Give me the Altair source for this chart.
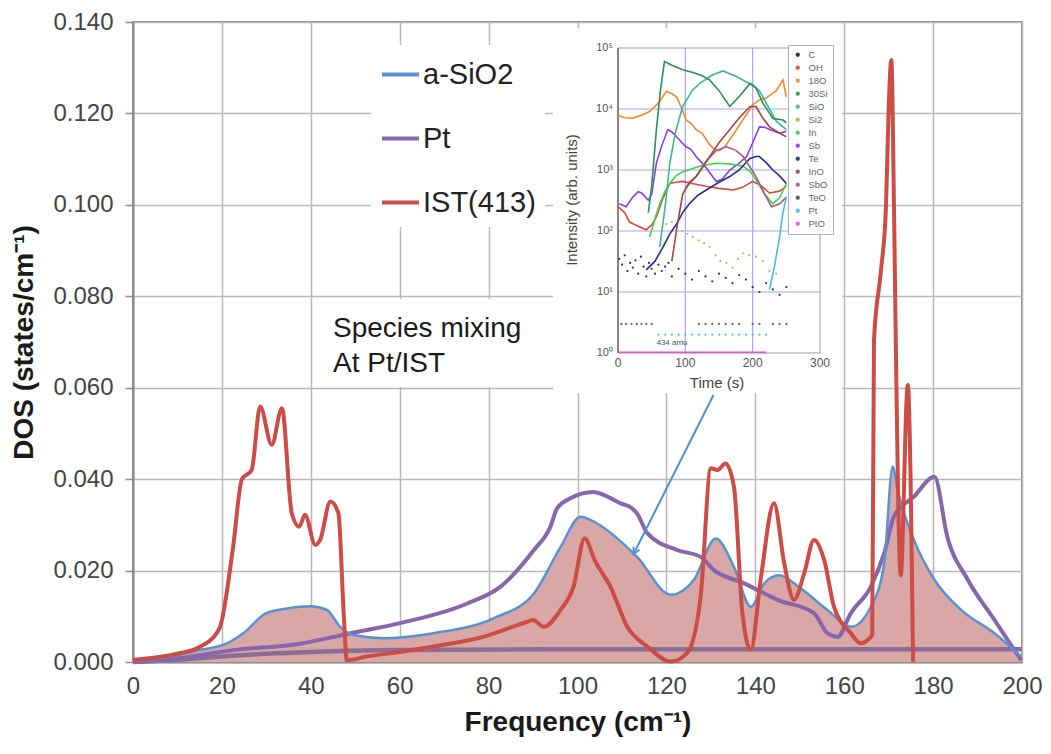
import altair as alt
import pandas as pd

# ---------------- main chart data ----------------
SERIES = ["a-SiO2", "Pt", "IST(413)"]
COLORS = ["#5792d4", "#8766ac", "#cc4d45"]

FREQ_SIO2 = [0, 5, 10, 15, 21, 24.8, 30, 34.6, 39.9, 43.6, 46.6, 49.6, 56.4, 67.6, 81.2, 90.2, 96.2,
             100.7, 104.4, 113.4, 121, 126.2, 131.1, 135.2, 139, 142, 145.3, 150.2, 156.2, 161.5,
             166, 169, 170.9, 172, 175.7, 180.3, 186.3, 193.8, 199.8]
DOS_SIO2 = [0.0004, 0.0008, 0.0015, 0.0026, 0.004, 0.0063, 0.0107, 0.0117, 0.0122, 0.0114, 0.0077,
            0.0059, 0.0052, 0.0063, 0.0096, 0.015, 0.0252, 0.0318, 0.0303, 0.023, 0.0147, 0.018,
            0.027, 0.0208, 0.0121, 0.0172, 0.019, 0.0161, 0.0114, 0.0077, 0.0121, 0.0216, 0.0427,
            0.0376, 0.0267, 0.018, 0.0114, 0.0063, 0.0012]

FREQ_PT = [0, 10, 22.5, 37.6, 48.9, 60.1, 75.2, 82.7, 90.2, 93.9, 95.4, 98.4, 103.5, 109.7, 112.3,
           113.4, 115.7, 122.4, 127.7, 130.7, 137.5, 145, 153.2, 156.2, 158.5, 161.5, 166, 169,
           171.2, 175.7, 180.3, 183.2, 187.8, 193.8, 199.8]
DOS_PT = [0.0, 0.0008, 0.0026, 0.004, 0.0063, 0.0085, 0.0128, 0.0165, 0.0245, 0.0296, 0.0336,
          0.0358, 0.0372, 0.0347, 0.0336, 0.0325, 0.0282, 0.0245, 0.023, 0.0201, 0.0172, 0.0136,
          0.0107, 0.0063, 0.0055, 0.0107, 0.0165, 0.0238, 0.0318, 0.0362, 0.0405, 0.0274, 0.018,
          0.0092, 0.0004]

FREQ_IST = [0, 5, 10, 15, 18.8, 19.6, 22.5, 24.5, 26.7, 28.6, 31.2, 33.5, 35.7, 37.4, 38.7, 41,
            42.1, 44.4, 46.2, 47.4, 48.1, 52.6, 60, 67.6, 78.8, 88.7, 90, 92.4, 96.2, 99.1, 101.6,
            104, 107.4, 111.2, 115.7, 121, 124.7, 127.7, 130, 131.5, 133.3, 135.2, 137.1, 139,
            141.2, 144.2, 146.5, 148.7, 151, 153.2, 155.5, 157.7, 161.5, 163.7, 165.5, 166.3,
            166.7, 168.2, 169.4, 170, 170.6, 171.2, 171.6, 172.7, 174.3, 175.5]
DOS_IST = [0.0005, 0.001, 0.0018, 0.0033, 0.0063, 0.0077, 0.025, 0.040, 0.042, 0.0559, 0.0475,
           0.0555, 0.0326, 0.0296, 0.0322, 0.0256, 0.0267, 0.0351, 0.0326, 0.0107, 0.0004, 0.0012,
           0.0022, 0.0034, 0.0055, 0.0088, 0.0092, 0.0077, 0.0114, 0.0165, 0.027, 0.022, 0.0165,
           0.0077, 0.0034, 0.0001, 0.002, 0.0143, 0.0424, 0.042, 0.0434, 0.0383, 0.0107, 0.0026,
           0.018, 0.0347, 0.0216, 0.0136, 0.0194, 0.0267, 0.0223, 0.0121, 0.0063, 0.0041, 0.005,
           0.006, 0.0704, 0.085, 0.0996, 0.121, 0.1317, 0.0995, 0.0704, 0.019, 0.0606, 0.0]

FREQ_BASE = [0, 10, 20, 30, 40, 60, 100, 150, 200]
DOS_BASE = [0.0, 0.0005, 0.0012, 0.0018, 0.0022, 0.0026, 0.0028, 0.0028, 0.0028]

Y_TICKS = [0, 0.02, 0.04, 0.06, 0.08, 0.10, 0.12, 0.14]
X_TICKS = [0, 20, 40, 60, 80, 100, 120, 140, 160, 180, 200]

# ---------------- inset (SIMS depth profile) data ----------------
INSET_SPECIES = ["C", "OH", "18O", "30Si", "SiO", "Si2", "In", "Sb", "Te", "InO", "SbO", "TeO", "Pt", "PtO"]
INSET_COLORS = ["#222222", "#e0453a", "#f28a30", "#2f8f55", "#3fb59a", "#b4b060", "#3fd24a",
                "#8a3fe6", "#2a2a90", "#a0483c", "#a65a88", "#555555", "#49bde6", "#e050d8"]

T_30SI = [45, 50, 57, 63, 69, 80, 96, 110, 125, 136, 150, 166, 180, 196, 205, 215, 230, 245, 250]
V_30SI = [200, 540, 4600, 20000, 60000, 52000, 44000, 40000, 35000, 30000, 20000, 11000, 16000,
          26000, 22000, 12600, 7000, 6600, 6000]
T_SIO = [62, 70, 77, 85, 96, 110, 121, 140, 156, 176, 190, 200, 210, 220, 235, 250]
V_SIO = [55, 250, 1300, 4000, 11000, 20000, 26000, 36000, 42000, 34000, 28000, 25000, 20000,
         12600, 6300, 4600]
T_18O = [0, 10, 22, 35, 47, 60, 72, 80, 87, 95, 101, 110, 116, 125, 136, 145, 151, 160, 176, 190,
         200, 210, 220, 235, 245, 250]
V_18O = [7900, 7200, 7100, 7900, 9100, 12600, 19500, 17800, 15800, 10000, 6600, 5600, 4600, 4000,
         2600, 2100, 2100, 2500, 4600, 7900, 11700, 14100, 15100, 20000, 30000, 15800]
T_SB = [2, 12, 22, 30, 35, 45, 50, 57, 65, 74, 80, 87, 95, 101, 108, 116, 130, 146, 155, 166, 180,
        191, 200, 210, 218, 225, 240, 250]
V_SB = [280, 250, 360, 440, 420, 320, 400, 1300, 2500, 4600, 4200, 3500, 2800, 2400, 2200, 1660,
        1120, 650, 710, 1000, 1300, 1660, 2800, 5100, 5000, 4600, 4000, 4300]
T_IN = [47, 55, 62, 70, 77, 86, 96, 110, 121, 135, 146, 165, 186, 196, 205, 218, 230, 240, 250]
V_IN = [80, 160, 280, 450, 600, 800, 930, 1050, 1150, 1230, 1290, 1260, 1150, 950, 690, 400, 280,
        350, 600]
T_OH = [0, 10, 17, 30, 42, 50, 57, 67, 77, 86, 96, 110, 131, 150, 171, 185, 200, 212, 225, 240, 250]
V_OH = [250, 200, 140, 120, 105, 125, 170, 350, 600, 630, 650, 600, 540, 500, 470, 520, 650, 560,
        420, 450, 540]
T_INO = [80, 87, 96, 106, 116, 126, 136, 150, 166, 180, 196, 205, 215, 225, 240, 250]
V_INO = [32, 105, 400, 630, 780, 1120, 1660, 2800, 4600, 7100, 11000, 11000, 7100, 5100, 4000, 3500]
T_SBO = [100, 116, 131, 146, 161, 175, 186, 196, 205, 218, 228, 240, 250]
V_SBO = [500, 780, 1400, 2100, 2400, 2100, 1660, 1120, 780, 400, 250, 280, 360]
T_TE = [42, 55, 67, 77, 87, 96, 106, 118, 131, 150, 166, 180, 196, 205, 210, 220, 230, 240, 250]
V_TE = [23, 32, 55, 90, 130, 200, 280, 380, 470, 630, 780, 1000, 1550, 1660, 1660, 1320, 1000, 800, 600]
T_PT = [225, 232, 240, 245, 250]
V_PT = [11, 25, 80, 200, 360]
T_PTO = [0, 50, 100, 150, 200, 220]
V_PTO = [1.03, 1.03, 1.03, 1.03, 1.03, 1.03]

T_C = [2, 6, 10, 14, 18, 22, 26, 30, 34, 38, 42, 46, 50, 55, 60, 65, 70, 75, 80, 90, 100, 110, 120,
       130, 140, 150, 160, 170, 180, 190, 200, 210, 220, 230, 240, 250]
V_C = [35, 28, 40, 22, 30, 25, 33, 20, 38, 26, 18, 30, 24, 20, 28, 22, 26, 30, 18, 24, 20, 16, 22,
       18, 15, 20, 17, 14, 19, 16, 12, 10, 14, 11, 9, 12]
T_SI2 = [72, 80, 87, 95, 103, 111, 120, 128, 136, 145, 152, 161, 170, 178, 186, 195, 205, 215, 225, 235]
V_SI2 = [130, 140, 118, 100, 90, 80, 70, 63, 55, 40, 32, 30, 25, 35, 43, 40, 38, 32, 22, 20]
T_TEO = [5, 12, 20, 28, 35, 42, 50, 120, 130, 140, 150, 160, 170, 180, 200, 210, 230, 240, 250]
V_TEO = [3] * len(T_TEO)
T_PTROW = [60, 70, 80, 90, 100, 110, 120, 130, 140, 150, 160, 170, 180, 190, 200, 210, 220]
V_PTROW = [2] * len(T_PTROW)

INSET_Y_TICKS = [1, 10, 100, 1000, 10000, 100000]
INSET_Y_LABELS = ["10⁰", "10¹", "10²", "10³", "10⁴", "10⁵"]
INSET_X_TICKS = [0, 100, 200, 300]

FONT = "Liberation Sans"

# ---------------- build tables ----------------
def ftab(x, y, name):
    return pd.DataFrame({"freq": x, "dos": y, "series": name})

df_sio2 = ftab(FREQ_SIO2, DOS_SIO2, "a-SiO2")
df_pt = ftab(FREQ_PT, DOS_PT, "Pt")
df_ist = ftab(FREQ_IST, DOS_IST, "IST(413)")
df_base = ftab(FREQ_BASE, DOS_BASE, "base")

def itab(t, v, name):
    return pd.DataFrame({"t": t, "v": v, "species": name})

df_ilines = pd.concat([
    itab(T_PTO, V_PTO, "PtO"), itab(T_OH, V_OH, "OH"), itab(T_18O, V_18O, "18O"),
    itab(T_SB, V_SB, "Sb"), itab(T_IN, V_IN, "In"), itab(T_TE, V_TE, "Te"),
    itab(T_SBO, V_SBO, "SbO"), itab(T_INO, V_INO, "InO"), itab(T_SIO, V_SIO, "SiO"),
    itab(T_30SI, V_30SI, "30Si"), itab(T_PT, V_PT, "Pt"),
], ignore_index=True)
df_ipts = pd.concat([
    itab(T_C, V_C, "C"), itab(T_SI2, V_SI2, "Si2"), itab(T_TEO, V_TEO, "TeO"),
    itab(T_PTROW, V_PTROW, "Pt"),
], ignore_index=True)

# ---------------- main encodings ----------------
xm = alt.X("freq:Q", scale=alt.Scale(domain=[0, 200], nice=False),
           axis=alt.Axis(values=X_TICKS, title="Frequency (cm⁻¹)", format="d", labelFlush=False))
ym = alt.Y("dos:Q", scale=alt.Scale(domain=[0, 0.14], nice=False),
           axis=alt.Axis(values=Y_TICKS, title="DOS (states/cm⁻¹)", format=".3f"))
col_scale = alt.Scale(domain=SERIES, range=COLORS)
legend_main = alt.Legend(
    title=None, orient="none", legendX=238, legendY=23, fillColor="white",
    symbolType="stroke", symbolStrokeWidth=4, symbolSize=1369, labelFontSize=29,
    labelFont=FONT, labelColor="#222222", rowPadding=28, padding=9, labelOffset=2,
)

area = alt.Chart(df_sio2).mark_area(color="#d9a7a5", interpolate="monotone").encode(x=xm, y=ym)
base = alt.Chart(df_base).mark_line(color="#8a6e98", strokeWidth=4.5, interpolate="monotone").encode(x=xm, y=ym)

def series_line(df, width):
    return alt.Chart(df).mark_line(strokeWidth=width, interpolate="monotone").encode(
        x=xm, y=ym, color=alt.Color("series:N", scale=col_scale, legend=legend_main))

line_pt = series_line(df_pt, 4)
line_sio2 = series_line(df_sio2, 2.5)
line_ist = series_line(df_ist, 4)

species_box = alt.Chart(pd.DataFrame({"k": [0]})).mark_rect(fill="white").encode(
    x=alt.value(187), x2=alt.value(430), y=alt.value(277), y2=alt.value(365))
species_text = alt.Chart(pd.DataFrame({"label": ["Species mixing\nAt Pt/IST"]})).mark_text(
    align="left", baseline="alphabetic", fontSize=28, font=FONT, color="#1a1a1a",
    lineBreak="\n", lineHeight=35).encode(x=alt.value(200), y=alt.value(315), text="label:N")

ARROW = pd.DataFrame({"freq": [130.6], "dos": [0.0584], "freq2": [112.6], "dos2": [0.0236]})
arrow_line = alt.Chart(ARROW).mark_rule(color="#4f8ed0", strokeWidth=2).encode(
    x=xm, y=ym, x2="freq2:Q", y2="dos2:Q")
arrow_head = alt.Chart(ARROW).mark_point(
    shape="M -0.7 -1.4 L 0 0 L 0.7 -1.4", filled=False, stroke="#4f8ed0", strokeWidth=2,
    size=90, angle=27, opacity=1).encode(
    x=alt.X("freq2:Q", scale=alt.Scale(domain=[0, 200], nice=False)),
    y=alt.Y("dos2:Q", scale=alt.Scale(domain=[0, 0.14], nice=False)))

main = alt.layer(area, base, line_pt, line_sio2, line_ist, species_box, species_text,
                 arrow_line, arrow_head)

# ---------------- inset encodings ----------------
xs_i = alt.Scale(domain=[0, 300], range=[485, 687], nice=False)
ys_i = alt.Scale(type="log", domain=[1, 100000], range=[331, 26], nice=False)
xi = alt.X("t:Q", scale=xs_i, axis=None)
yi = alt.Y("v:Q", scale=ys_i, axis=None)
icol = alt.Scale(domain=INSET_SPECIES, range=INSET_COLORS)
legend_inset = alt.Legend(
    title=None, orient="none", legendX=655, legendY=23, fillColor="white", strokeColor="#b0b0b0",
    symbolType="circle", symbolSize=8, labelFontSize=9.5, labelFont=FONT, labelColor="#666666",
    rowPadding=2, padding=5, labelOffset=6,
)

inset_bg = alt.Chart(pd.DataFrame({"k": [0]})).mark_rect(fill="white").encode(
    x=alt.value(420), x2=alt.value(709), y=alt.value(6), y2=alt.value(371))

vgrid = alt.Chart(pd.DataFrame({"t": [100, 200], "v": [1, 1], "v2": [100000, 100000]})).mark_rule(
    color="#a5a5f0", strokeWidth=1.2).encode(x=xi, y=yi, y2="v2:Q")
hgrid = alt.Chart(pd.DataFrame({"v": [10, 100, 1000, 10000], "t": [0] * 4, "t2": [300] * 4})).mark_rule(
    color="#a5a5f0", strokeWidth=1.2).encode(x=xi, x2="t2:Q", y=yi)
iframe = alt.Chart(pd.DataFrame({"t": [0], "t2": [300], "v": [1], "v2": [100000]})).mark_rect(
    fillOpacity=0, stroke="#9a9a9a", strokeWidth=1).encode(x=xi, x2="t2:Q", y=yi, y2="v2:Q")
iaxis = alt.Chart(pd.DataFrame({"t": [0], "v": [1], "v2": [100000]})).mark_rule(
    color="#555555", strokeWidth=1.2).encode(x=xi, y=yi, y2="v2:Q")

ilines = alt.Chart(df_ilines).mark_line(strokeWidth=1.6).encode(
    x=xi, y=yi, detail="species:N",
    color=alt.Color("species:N", scale=icol, legend=legend_inset))
ipts = alt.Chart(df_ipts).mark_circle(size=5, opacity=0.9).encode(
    x=xi, y=yi, color=alt.Color("species:N", scale=icol, legend=legend_inset))

iylab = alt.Chart(pd.DataFrame({"v": INSET_Y_TICKS, "t": [0] * 6, "label": INSET_Y_LABELS})).mark_text(
    align="right", baseline="middle", dx=-5, fontSize=11, font=FONT, color="#555555").encode(
    x=xi, y=yi, text="label:N")
ixlab = alt.Chart(pd.DataFrame({"t": INSET_X_TICKS, "v": [1] * 4,
                                "label": [str(v) for v in INSET_X_TICKS]})).mark_text(
    align="center", baseline="top", dy=5, fontSize=12, font=FONT, color="#555555").encode(
    x=xi, y=yi, text="label:N")
ixtitle = alt.Chart(pd.DataFrame({"label": ["Time (s)"]})).mark_text(
    fontSize=15, font=FONT, color="#444444").encode(x=alt.value(584), y=alt.value(361), text="label:N")
iytitle = alt.Chart(pd.DataFrame({"label": ["Intensity (arb. units)"]})).mark_text(
    fontSize=15, font=FONT, color="#444444", angle=270).encode(
    x=alt.value(439), y=alt.value(178), text="label:N")
iamu = alt.Chart(pd.DataFrame({"label": ["434 amu"]})).mark_text(
    fontSize=8, font=FONT, color="#555555").encode(x=alt.value(539), y=alt.value(321), text="label:N")

inset = alt.layer(inset_bg, hgrid, vgrid, iframe, iaxis, ipts, ilines, iylab, ixlab,
                  ixtitle, iytitle, iamu)

chart = alt.layer(main, inset).resolve_scale(
    x="independent", y="independent", color="independent"
).properties(
    width=889, height=640,
    padding={"left": 125, "top": 14, "right": 20, "bottom": 84},
    autosize=alt.AutoSizeParams(type="none"),
).configure(font=FONT).configure_view(
    stroke="#8c8c8c", strokeWidth=2
).configure_axis(
    labelFont=FONT, titleFont=FONT, labelFontSize=24, labelColor="#444444",
    titleFontSize=28, titleFontWeight="bold", titleColor="#1a1a1a",
    gridColor="#b8b8b8", gridWidth=1.5, domainColor="#8c8c8c", domainWidth=2,
    tickColor="#8c8c8c",
).configure_axisX(
    tickSize=0, labelPadding=12, titlePadding=10,
).configure_axisY(
    tickSize=8, tickWidth=1.5, labelPadding=12, titlePadding=14,
)

chart.save("out.html", embed_options={"renderer": "svg", "actions": False})
